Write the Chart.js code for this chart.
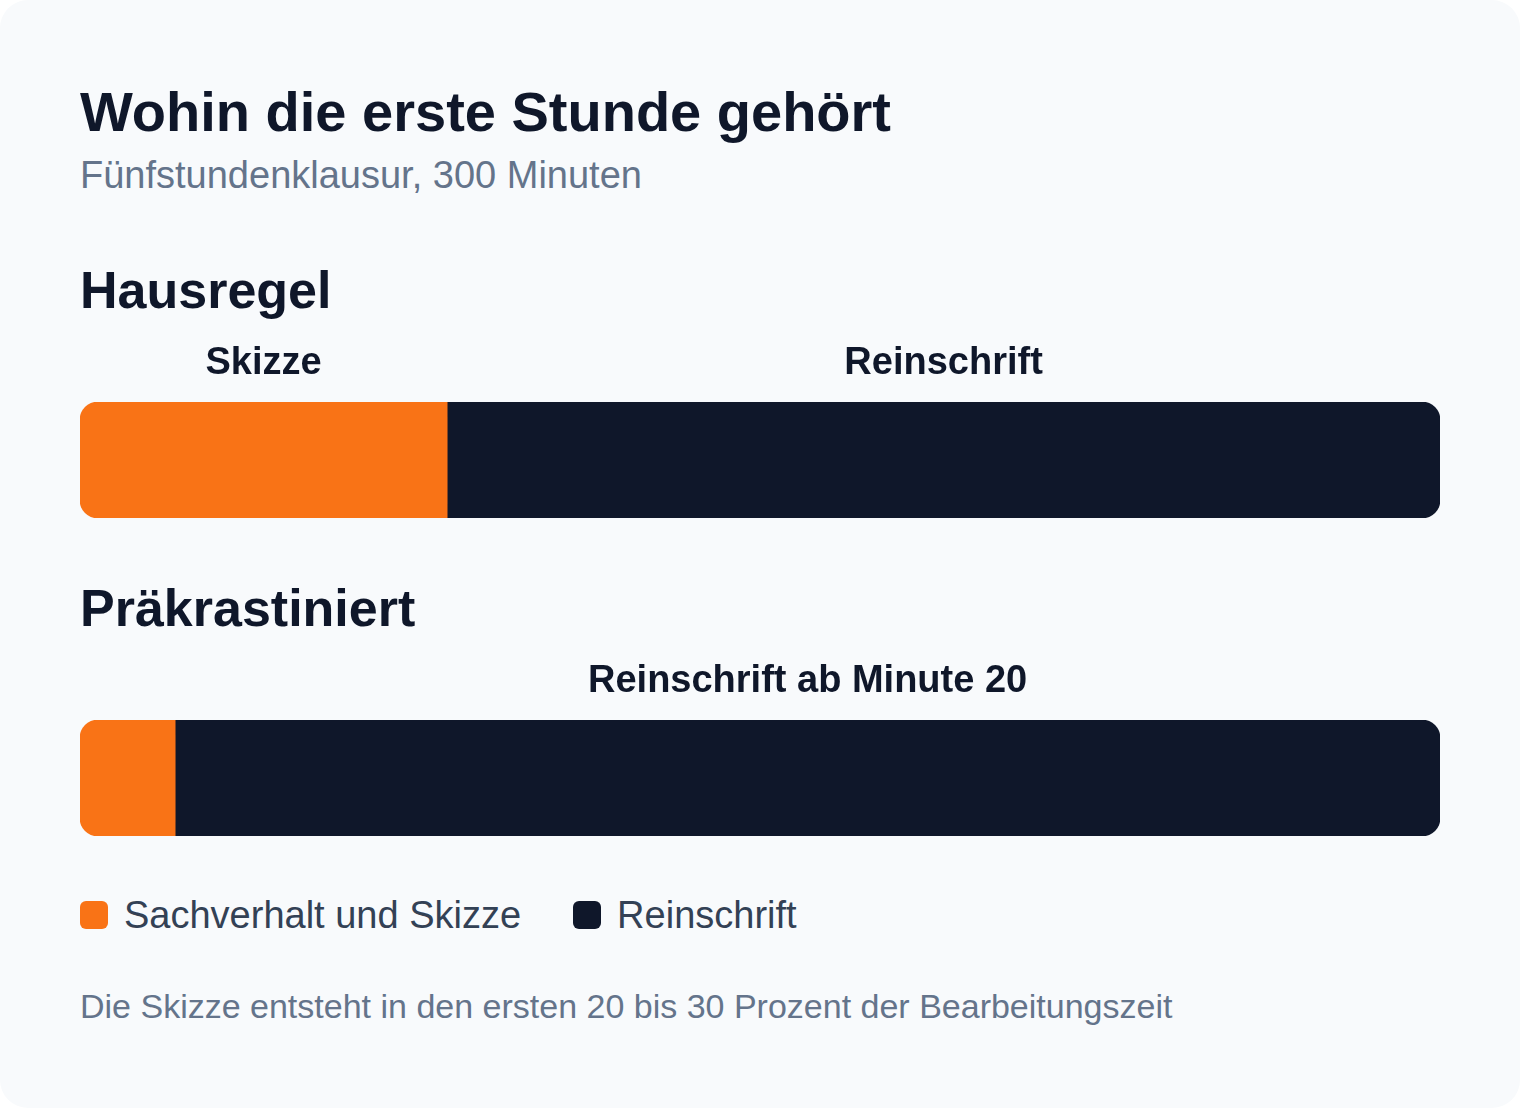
<!DOCTYPE html>
<html lang="de">
<head>
<meta charset="utf-8">
<script src="https://cdn.jsdelivr.net/npm/chart.js@4.4.1/dist/chart.umd.min.js"></script>
<style>
  html, body { margin:0; padding:0; background:#ffffff; }
  body { width:1520px; height:1108px; overflow:hidden; font-family:"Liberation Sans", Arial, Helvetica, sans-serif; }
  #card { position:absolute; left:0; top:0; width:1520px; height:1108px; background:#f8fafc; border-radius:28px; }
  .txt { position:absolute; left:80px; line-height:1; white-space:nowrap; margin:0; }
  #title { top:84px; font-size:56px; font-weight:700; color:#0f172a; }
  #subtitle { top:156px; font-size:38px; color:#64748b; }
  .heading { font-size:52px; font-weight:700; color:#0f172a; }
  #legend { position:absolute; left:80px; top:896px; display:flex; align-items:center; font-size:38px; line-height:1; color:#334155; }
  .item { display:flex; align-items:center; margin-right:52px; }
  .sw { width:28px; height:28px; border-radius:6px; margin-right:16px; }
  #note { top:989px; font-size:34px; color:#64748b; }
  canvas.bar { position:absolute; left:0; }
</style>
</head>
<body>
<div id="card">
  <h1 class="txt" id="title">Wohin die erste Stunde gehört</h1>
  <div class="txt" id="subtitle">Fünfstundenklausur, 300 Minuten</div>
  <div id="charts"></div>
  <div id="legend"></div>
  <div class="txt" id="note">Die Skizze entsteht in den ersten 20 bis 30 Prozent der Bearbeitungszeit</div>
</div>
<script>
// ---- data ----
const scenarios = ['Hausregel', 'Präkrastiniert'];
const seriesNames = ['Sachverhalt und Skizze', 'Reinschrift'];
const skizzeMinutes = [81, 21];
const reinschriftMinutes = [219, 279];
const skizzeLabels = ['Skizze', ''];
const reinschriftLabels = ['Reinschrift', 'Reinschrift ab Minute 20'];
const totalMinutes = 300;
const seriesColors = ['#f97316', '#0f172a'];

// ---- layout ----
const sectionOffset = 318;
const headingTop = 264;
const canvasTop = 340;
const canvasH = 190;
const barTop = 402;
const barH = 116;
const radius = 18;

const segLabelPlugin = {
  id: 'segLabels',
  afterDatasetsDraw(chart) {
    const ctx = chart.ctx;
    ctx.save();
    ctx.font = '700 38px "Liberation Sans", Arial, sans-serif';
    ctx.fillStyle = '#0f172a';
    ctx.textAlign = 'center';
    ctx.textBaseline = 'alphabetic';
    chart.data.datasets.forEach((ds, di) => {
      const meta = chart.getDatasetMeta(di);
      meta.data.forEach((el, i) => {
        const t = ds.segLabels[i];
        if (!t) return;
        const p = el.getProps(['x', 'base', 'y', 'height'], true);
        const cx = (p.x + p.base) / 2;
        const top = p.y - p.height / 2;
        ctx.fillText(t, cx, top - 28);
      });
    });
    ctx.restore();
  }
};

const chartsDiv = document.getElementById('charts');
scenarios.forEach((name, i) => {
  const off = i * sectionOffset;
  const h = document.createElement('div');
  h.className = 'txt heading';
  h.style.top = (headingTop + off) + 'px';
  h.textContent = name;
  chartsDiv.appendChild(h);

  const c = document.createElement('canvas');
  c.className = 'bar';
  c.style.top = (canvasTop + off) + 'px';
  c.width = 1520;
  c.height = canvasH;
  c.style.width = '1520px';
  c.style.height = canvasH + 'px';
  chartsDiv.appendChild(c);

  new Chart(c, {
    type: 'bar',
    data: {
      labels: [name],
      datasets: [
        { label: seriesNames[0], data: [skizzeMinutes[i]], backgroundColor: seriesColors[0],
          borderRadius: { topLeft: radius, bottomLeft: radius, topRight: 0, bottomRight: 0 },
          borderSkipped: false, segLabels: [skizzeLabels[i]] },
        { label: seriesNames[1], data: [reinschriftMinutes[i]], backgroundColor: seriesColors[1],
          borderRadius: { topLeft: 0, bottomLeft: 0, topRight: radius, bottomRight: radius },
          borderSkipped: false, segLabels: [reinschriftLabels[i]] }
      ]
    },
    options: {
      indexAxis: 'y',
      responsive: false,
      maintainAspectRatio: false,
      animation: false,
      devicePixelRatio: 1,
      layout: { padding: { left: 80, right: 80, top: barTop - canvasTop, bottom: canvasH - (barTop - canvasTop) - barH } },
      scales: {
        x: { stacked: true, min: 0, max: totalMinutes, display: false },
        y: { stacked: true, display: false }
      },
      datasets: { bar: { barPercentage: 1, categoryPercentage: 1, borderWidth: 0 } },
      plugins: { legend: { display: false }, tooltip: { enabled: false } }
    },
    plugins: [segLabelPlugin]
  });
});

const legend = document.getElementById('legend');
seriesNames.forEach((n, i) => {
  const it = document.createElement('div');
  it.className = 'item';
  const sw = document.createElement('span');
  sw.className = 'sw';
  sw.style.background = seriesColors[i];
  const tx = document.createElement('span');
  tx.textContent = n;
  it.appendChild(sw); it.appendChild(tx);
  legend.appendChild(it);
});
</script>
</body>
</html>
